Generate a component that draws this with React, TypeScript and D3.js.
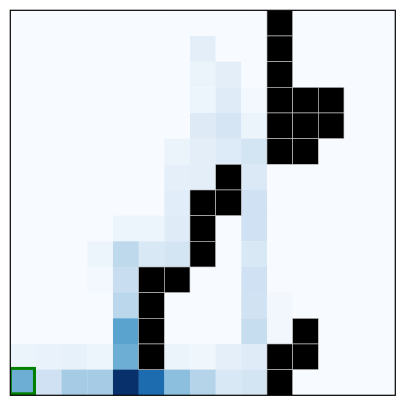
import { useEffect, useRef } from "react";
import * as d3 from "d3";

// value grid, row 0 at top; null = wall
const N = null;
const row00 = [0, 0, 0, 0, 0, 0, 0, 0, 0, 0, N, 0, 0, 0, 0];
const row01 = [0, 0, 0, 0, 0, 0, 0, 0.1, 0, 0, N, 0, 0, 0, 0];
const row02 = [0, 0, 0, 0, 0, 0, 0, 0.06, 0.1, 0, N, 0, 0, 0, 0];
const row03 = [0, 0, 0, 0, 0, 0, 0, 0.05, 0.12, 0.02, N, N, N, 0, 0];
const row04 = [0, 0, 0, 0, 0, 0, 0, 0.125, 0.17, 0.06, N, N, N, 0, 0];
const row05 = [0, 0, 0, 0, 0, 0, 0.06, 0.1, 0.13, 0.18, N, N, 0, 0, 0];
const row06 = [0, 0, 0, 0, 0, 0, 0.09, 0.1, N, 0.14, 0, 0, 0, 0, 0];
const row07 = [0, 0, 0, 0, 0, 0, 0.11, N, N, 0.2, 0, 0, 0, 0, 0];
const row08 = [0, 0, 0, 0, 0.05, 0.05, 0.12, N, 0, 0.2, 0, 0, 0, 0, 0];
const row09 = [0, 0, 0, 0.05, 0.27, 0.15, 0.18, N, 0, 0.15, 0, 0, 0, 0, 0];
const row10 = [0, 0, 0, 0.02, 0.23, N, N, 0, 0, 0.2, 0, 0, 0, 0, 0];
const row11 = [0, 0, 0, 0, 0.28, N, 0, 0, 0, 0.19, 0.03, 0, 0, 0, 0];
const row12 = [0, 0, 0, 0, 0.55, N, 0, 0, 0, 0.24, 0.03, N, 0, 0, 0];
const row13 = [0.06, 0.07, 0.08, 0.05, 0.5, N, 0.06, 0.04, 0.09, 0.12, N, N, 0, 0, 0];
const row14 = [0.5, 0.2, 0.35, 0.35, 1.0, 0.77, 0.42, 0.3, 0.15, 0.18, N, 0, 0, 0, 0];

const grid = [row00, row01, row02, row03, row04, row05, row06, row07, row08, row09, row10, row11, row12, row13, row14];

// highlighted start cell [row, col]
const start = [14, 0];

type Cell = { r: number; c: number; v: number | null };

export default function App() {
  const svgRef = useRef<SVGSVGElement | null>(null);

  useEffect(() => {
    const svg = d3.select(svgRef.current);
    svg.selectAll("*").remove();

    const W = 405;
    const H = 405;
    const x0 = 10.3;
    const size = 385;
    const n = grid.length;
    const idx = d3.range(n);

    const x = d3.scaleBand<number>().domain(idx).range([x0, x0 + size]);
    const y = d3.scaleBand<number>().domain(idx).range([x0, x0 + size]);
    const color = d3.scaleSequential(d3.interpolateBlues).domain([0, 1]);

    svg.attr("viewBox", `0 0 ${W} ${H}`);

    const cells: Cell[] = [];
    grid.forEach((row, r) => row.forEach((v, c) => cells.push({ r, c, v })));

    svg
      .append("defs")
      .append("clipPath")
      .attr("id", "plot-clip")
      .append("rect")
      .attr("x", x0)
      .attr("y", x0)
      .attr("width", size)
      .attr("height", size);

    const g = svg.append("g").attr("clip-path", "url(#plot-clip)");

    g.selectAll("rect.val")
      .data(cells.filter((d) => d.v !== null))
      .join("rect")
      .attr("class", "val")
      .attr("x", (d) => x(d.c)!)
      .attr("y", (d) => y(d.r)!)
      .attr("width", x.bandwidth() + 0.3)
      .attr("height", y.bandwidth() + 0.3)
      .attr("fill", (d) => color(d.v as number));

    g.selectAll("rect.wall")
      .data(cells.filter((d) => d.v === null))
      .join("rect")
      .attr("class", "wall")
      .attr("x", (d) => x(d.c)!)
      .attr("y", (d) => y(d.r)!)
      .attr("width", x.bandwidth())
      .attr("height", y.bandwidth())
      .attr("fill", "#000")
      .attr("stroke", "#c8c8c8")
      .attr("stroke-width", 0.6);

    const bw = x.bandwidth();
    g.append("rect")
      .attr("x", x(start[1])! + 0)
      .attr("y", y(start[0])! - 1.2)
      .attr("width", bw - 1.5)
      .attr("height", bw - 0.3)
      .attr("fill", "none")
      .attr("stroke", "#008000")
      .attr("stroke-width", 3);

    svg
      .append("rect")
      .attr("x", x0)
      .attr("y", x0)
      .attr("width", size)
      .attr("height", size)
      .attr("fill", "none")
      .attr("stroke", "#000")
      .attr("stroke-width", 1.2);
  }, []);

  return (
    <svg
      ref={svgRef}
      width={405}
      height={405}
      style={{ position: "absolute", left: 0, top: 0, background: "#fff" }}
    />
  );
}
